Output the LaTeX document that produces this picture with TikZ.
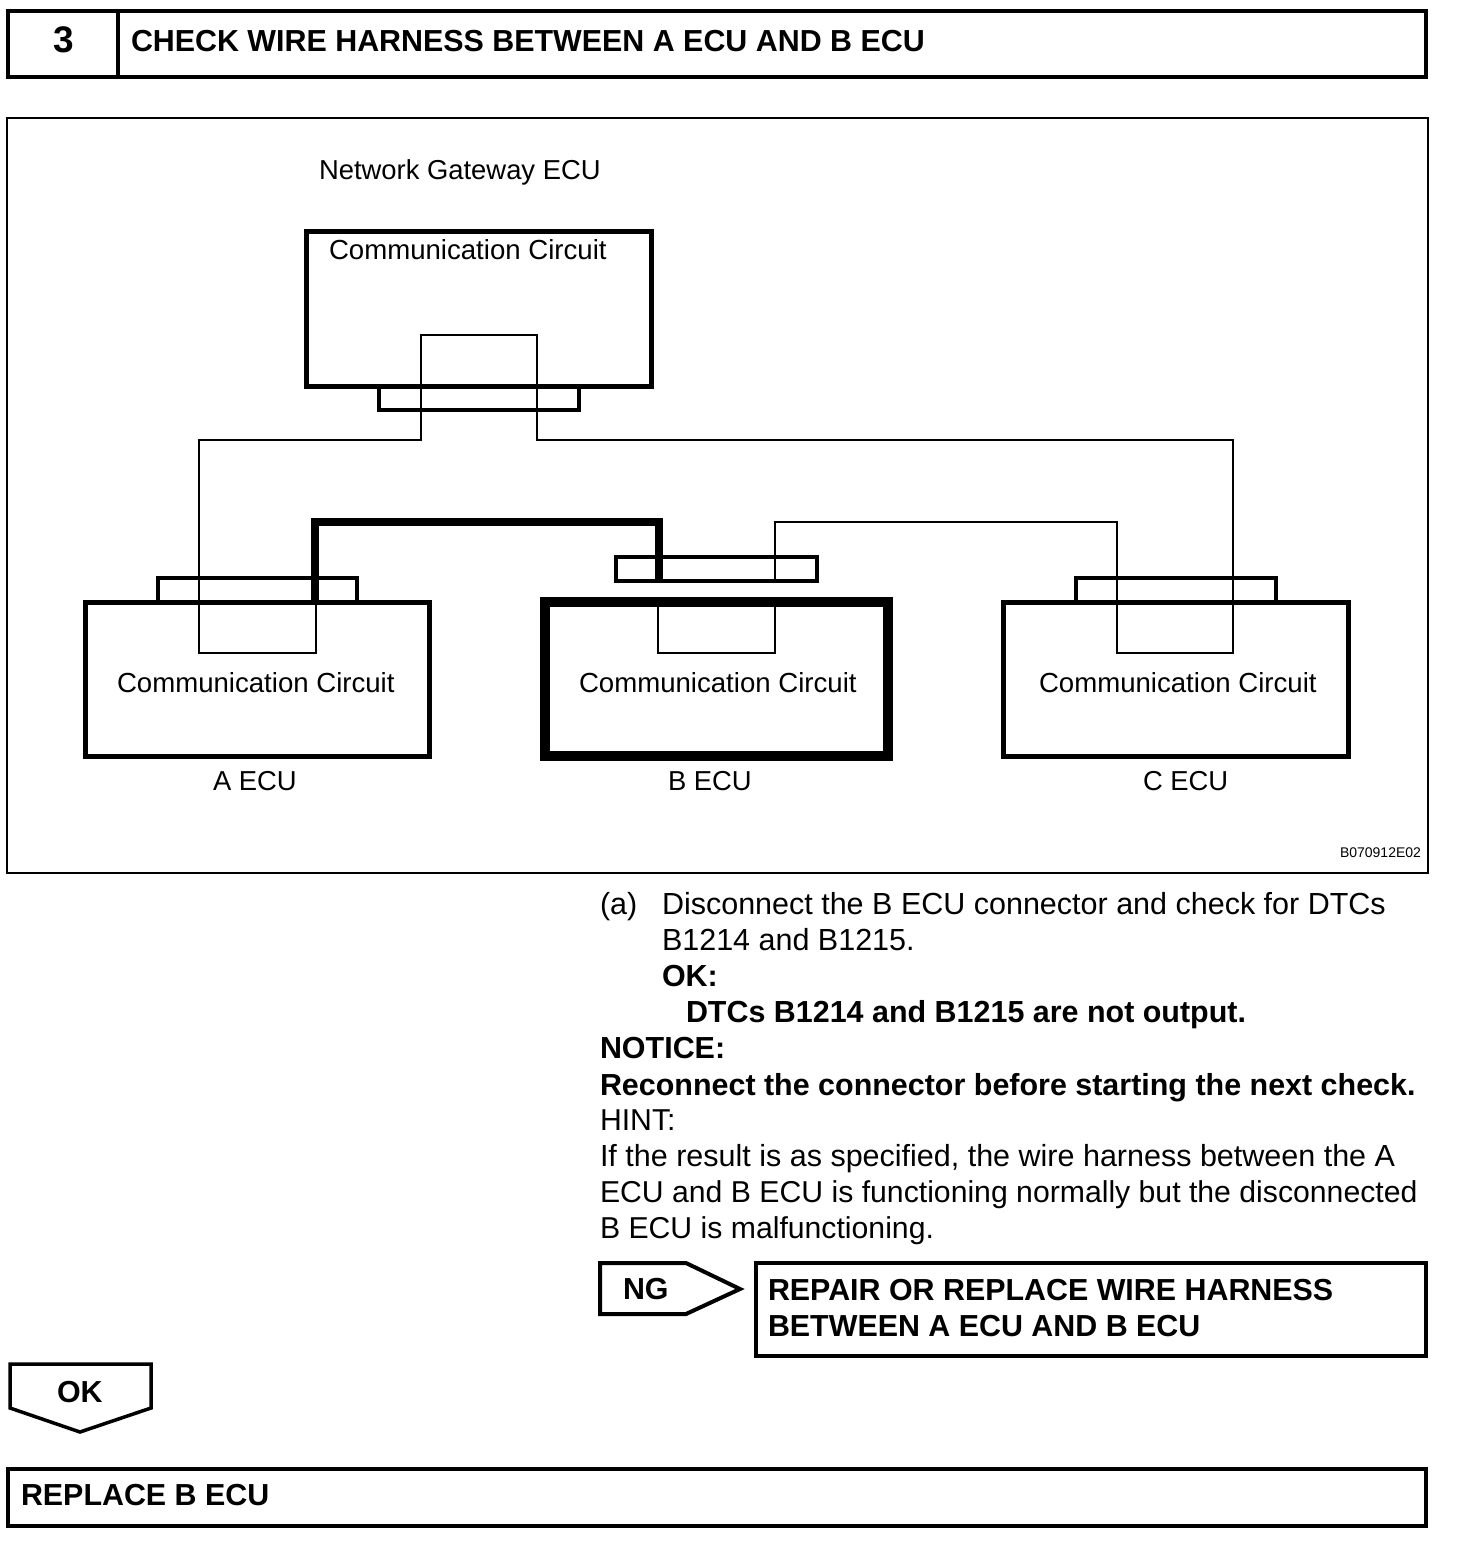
\documentclass[tikz,border=0pt]{standalone}
\usepackage{fontspec}
\setmainfont{Liberation Sans}
\tikzset{
  box/.style={draw=black,line width=4pt,inner sep=0pt,outer sep=0pt,anchor=north west,miter limit=10},
  ecubox/.style={box,line width=5pt},
  plug/.style={box,line width=4pt},
  wire/.style={draw=black,line width=2.6pt,line join=miter},
  thickwire/.style={draw=black,line width=8pt,line join=miter},
  txt/.style={anchor=base west,inner sep=0pt,outer sep=0pt,font=\fontsize{29}{36}\selectfont},
  dtxt/.style={txt,font=\fontsize{27.6}{32}\selectfont},
  ntxt/.style={txt,font=\fontsize{27.4}{32}\selectfont},
  btxt/.style={txt,font=\fontsize{30.4}{36}\selectfont\bfseries},
  ptxt/.style={txt,font=\fontsize{30.5}{36}\selectfont},
  ptxtn/.style={txt,font=\fontsize{30.2}{36}\selectfont},
  ptb/.style={txt,font=\fontsize{30.45}{36}\selectfont\bfseries},
}
\begin{document}
\begin{tikzpicture}[x=1pt,y=-1pt]
\useasboundingbox (0,0) rectangle (1472,1552);
\fill[white] (0,0) rectangle (1472,1552);

% title
\node[box,minimum width=1418pt,minimum height=66pt] (title) at (8,11) {};
\coordinate (divt) at (118,11);
\coordinate (divb) at (118,77);
\draw[line width=4pt] (divt) -- (divb);
\node[txt,font=\fontsize{37}{40}\selectfont\bfseries] (num) at (53,53) {3};
\node[btxt] (titletext) at (131,52) {CHECK WIRE HARNESS BETWEEN A ECU AND B ECU};

% frame
\node[box,line width=2.5pt,minimum width=1421pt,minimum height=755pt] (frame) at (7,118) {};
\node[ntxt] (gwname) at (319,179) {Network Gateway ECU};

% ECU boxes
\node[ecubox,minimum width=345pt,minimum height=155pt] (gw) at (306,231) {};
\node[dtxt] (gwc) at (329,259) {Communication Circuit};
\node[plug,minimum width=200pt,minimum height=24pt] (gwp) at (379,386) {};

\node[ecubox,minimum width=344.5pt,minimum height=154pt] (a) at (85,602) {};
\node[plug,minimum width=198.5pt,minimum height=24pt] (ap) at (158,578) {};
\node[dtxt] (ac) at (117,692) {Communication Circuit};
\node[ntxt] (al) at (213,790) {A ECU};

\node[ecubox,line width=10.5pt,minimum width=343pt,minimum height=154pt] (b) at (545,602) {};
\node[plug,minimum width=201pt,minimum height=24pt] (bp) at (616,557) {};
\node[dtxt] (bc) at (579,692) {Communication Circuit};
\node[ntxt] (bl) at (668,790) {B ECU};

\node[ecubox,minimum width=345.5pt,minimum height=154pt] (c) at (1003,602) {};
\node[plug,minimum width=200pt,minimum height=24pt] (cp) at (1076,578) {};
\node[dtxt] (cc) at (1039,692) {Communication Circuit};
\node[ntxt] (cl) at (1143,790) {C ECU};

\node[txt,font=\fontsize{14}{16}\selectfont] (code) at (1340,857) {B070912E02};

% wires
\coordinate (w1) at (421,335);
\coordinate (w2) at (421,440);
\coordinate (w3) at (199,440);
\coordinate (w4) at (199,653);
\coordinate (w5) at (316,653);
\coordinate (w6) at (316,600);
\coordinate (w7) at (537,335);
\coordinate (w8) at (537,440);
\coordinate (w9) at (1233,440);
\coordinate (w10) at (1233,653);
\coordinate (w11) at (1117,653);
\coordinate (w12) at (1117,522);
\coordinate (w13) at (775,522);
\coordinate (w13b) at (775,581);
\coordinate (w14a) at (775,600);
\coordinate (w14) at (775,653);
\coordinate (w15) at (658,653);
\coordinate (w16) at (658,600);
\draw[wire] (w6) -- (w5) -- (w4) -- (w3) -- (w2) -- (w1) -- (w7) -- (w8) -- (w9) -- (w10) -- (w11) -- (w12) -- (w13) -- (w13b);
\draw[wire] (w14a) -- (w14) -- (w15) -- (w16);
\coordinate (t1) at (315,600);
\coordinate (t2) at (315,522);
\coordinate (t3) at (658.5,522);
\coordinate (t4) at (658.5,581);
\draw[thickwire] (t1) -- (t2) -- (t3) -- (t4);

% instructions
\node[ptxt] (l0) at (600,914) {(a)};
\node[ptxt] (l1) at (662,914) {Disconnect the B ECU connector and check for DTCs};
\node[ptxt] (l2) at (662,950) {B1214 and B1215.};
\node[ptb] (l3) at (662,986) {OK:};
\node[ptb] (l4) at (686,1022) {DTCs B1214 and B1215 are not output.};
\node[ptb] (l5) at (600,1058) {NOTICE:};
\node[ptb] (l6) at (600,1095) {Reconnect the connector before starting the next check.};
\node[ptxtn] (l7) at (600,1130) {HINT:};
\node[ptxt] (l8) at (600,1166) {If the result is as specified, the wire harness between the A};
\node[ptxtn] (l9) at (600,1202) {ECU and B ECU is functioning normally but the disconnected};
\node[ptxtn] (l10) at (600,1238) {B ECU is malfunctioning.};

% NG
\coordinate (n1) at (600,1263);
\coordinate (n2) at (686,1263);
\coordinate (n3) at (740,1289);
\coordinate (n4) at (686,1314);
\coordinate (n5) at (600,1314);
\draw[line width=4pt] (n1) -- (n2) -- (n3) -- (n4) -- (n5) -- cycle;
\node[btxt] (ng) at (623,1299) {NG};
\node[box,minimum width=670pt,minimum height=93pt] (repair) at (756,1263) {};
\node[btxt] (r1) at (768,1300) {REPAIR OR REPLACE WIRE HARNESS};
\node[btxt] (r2) at (768,1336) {BETWEEN A ECU AND B ECU};

% OK
\coordinate (o1) at (10,1364);
\coordinate (o2) at (151,1364);
\coordinate (o3) at (151,1408);
\coordinate (o4) at (80,1432);
\coordinate (o5) at (10,1408);
\draw[line width=3.5pt] (o1) -- (o2) -- (o3) -- (o4) -- (o5) -- cycle;
\node[btxt] (ok) at (57,1402) {OK};

\node[box,minimum width=1418pt,minimum height=57pt] (rep) at (8,1469) {};
\node[btxt] (reptext) at (21,1505) {REPLACE B ECU};
\end{tikzpicture}
\end{document}
